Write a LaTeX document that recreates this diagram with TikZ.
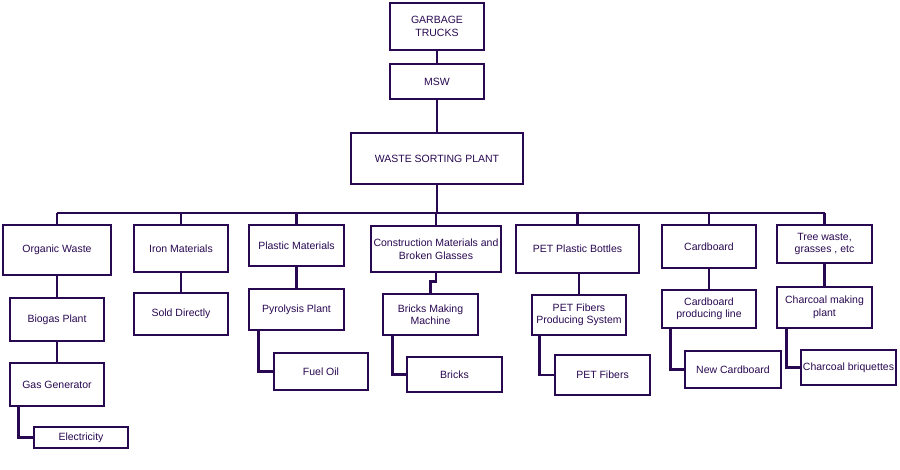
\documentclass[tikz,border=0pt]{standalone}
\usepackage{fontspec}
\setmainfont{Liberation Sans}
\usepackage{tikz}
\definecolor{plum}{RGB}{40,8,80}

\begin{document}
\begin{tikzpicture}[x=1pt, y=-1pt,
        box/.style={draw=plum, line width=2.6pt, text=plum, align=center, inner sep=1pt, font=\fontsize{10.5}{12.5}\selectfont},
        link/.style={draw=plum, line width=2.6pt}
    ]
        \useasboundingbox (0,0) rectangle (900,470);

        % top chain
        \node[box, minimum width=94, minimum height=47] (trucks) at (437,26.5) {GARBAGE\\TRUCKS};
        \node[box, minimum width=94, minimum height=35] (msw) at (437,81.5) {MSW};
        \node[box, minimum width=172, minimum height=51] (sorting) at (437,158.5) {WASTE SORTING PLANT};
        \coordinate (bus) at (437,213);

        % first row
        \node[box, minimum width=108, minimum height=50] (organic) at (57,250) {Organic Waste};
        \node[box, minimum width=94, minimum height=47] (iron) at (181,248.5) {Iron Materials};
        \node[box, minimum width=95, minimum height=41] (plastic) at (296.5,245.5) {Plastic Materials};
        \node[box, minimum width=130, minimum height=46] (construction) at (436,249) {Construction Materials and\\Broken Glasses};
        \node[box, minimum width=123, minimum height=48] (bottles) at (577.5,249) {PET Plastic Bottles};
        \node[box, minimum width=94, minimum height=43] (cardboard) at (709,246.5) {Cardboard};
        \node[box, minimum width=95, minimum height=38] (tree) at (824.5,244) {Tree waste,\\grasses , etc};

        % second row
        \node[box, minimum width=94, minimum height=43] (biogas) at (57,319.5) {Biogas Plant};
        \node[box, minimum width=94, minimum height=42] (sold) at (181,314) {Sold Directly};
        \node[box, minimum width=95, minimum height=41] (pyrolysis) at (296.5,309.5) {Pyrolysis Plant};
        \node[box, minimum width=95, minimum height=41] (brickmachine) at (430.5,314.5) {Bricks Making\\Machine};
        \node[box, minimum width=94, minimum height=40] (fibersystem) at (579,315) {PET Fibers\\Producing System};
        \node[box, minimum width=94, minimum height=38] (cardline) at (709,309) {Cardboard\\producing line};
        \node[box, minimum width=95, minimum height=41] (charcoal) at (824.5,307.5) {Charcoal making\\plant};

        % products
        \node[box, minimum width=94, minimum height=43] (generator) at (57,384.5) {Gas Generator};
        \node[box, minimum width=94, minimum height=21] (electricity) at (81,437.5) {Electricity};
        \node[box, minimum width=94, minimum height=37] (fueloil) at (321,371.5) {Fuel Oil};
        \node[box, minimum width=95, minimum height=35] (bricks) at (454.5,374.5) {Bricks};
        \node[box, minimum width=95, minimum height=40] (fibers) at (602.5,375) {PET Fibers};
        \node[box, minimum width=96, minimum height=37] (newcard) at (733,369.5) {New Cardboard};
        \node[box, minimum width=95, minimum height=35] (briquettes) at (848.5,367.5) {Charcoal briquettes};

        \draw[link] (trucks) -- (msw);
        \draw[link] (msw) -- (sorting);
        \draw[link] (sorting.south) -- (bus);
        \draw[link] (organic.north |- bus) -- (tree.north |- bus);
        \foreach \n in {organic, iron, plastic, construction, bottles, cardboard, tree}
            \draw[link] (\n.north) -- (\n.north |- bus);

        \draw[link] (organic) -- (biogas);
        \draw[link] (biogas) -- (generator);
        \draw[link] (iron) -- (sold);
        \draw[link] (plastic) -- (pyrolysis);
        \draw[link] (construction.south) -- ++(0,8) -| (brickmachine.north);
        \draw[link] (bottles.south -| fibersystem.north) -- (fibersystem.north);
        \draw[link] (cardboard) -- (cardline);
        \draw[link] (tree) -- (charcoal);

        \draw[link] ([xshift=10pt]generator.south west) |- (electricity.west);
        \draw[link] ([xshift=11pt]pyrolysis.south west) |- (fueloil.west);
        \draw[link] ([xshift=11pt]brickmachine.south west) |- (bricks.west);
        \draw[link] ([xshift=9pt]fibersystem.south west) |- (fibers.west);
        \draw[link] ([xshift=10pt]cardline.south west) |- (newcard.west);
        \draw[link] ([xshift=11pt]charcoal.south west) |- (briquettes.west);
    \end{tikzpicture}
\end{document}
